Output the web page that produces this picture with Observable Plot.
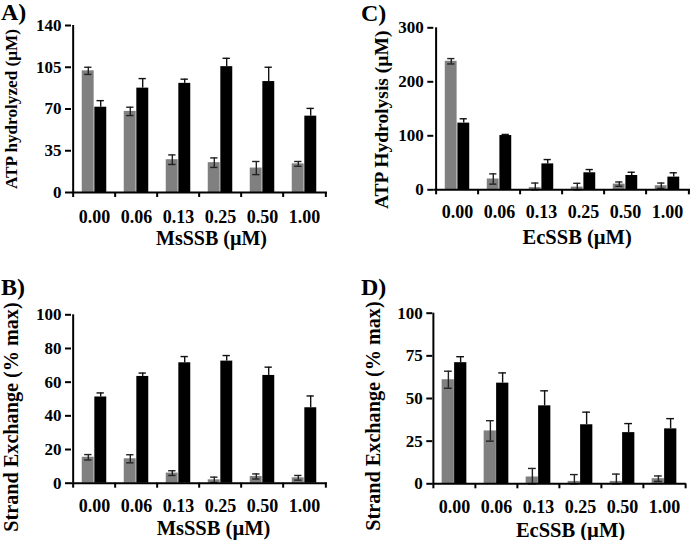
<!DOCTYPE html>
<html>
<head>
<meta charset="utf-8">
<script src="https://cdn.jsdelivr.net/npm/d3@7"></script>
<script src="https://cdn.jsdelivr.net/npm/@observablehq/plot@0.6"></script>
<style>
  html, body { margin: 0; padding: 0; background: #fff; }
  #wrap { position: relative; width: 693px; height: 540px; overflow: hidden; background: #fff; }
  .panel { position: absolute; }
  .letter { position: absolute; font-family: "Liberation Serif", "Times New Roman", serif; font-weight: bold; font-size: 24px; line-height: 24px; color: #000; }
</style>
</head>
<body>
<div id="wrap"></div>
<script>
// ---- data ----
const categories = ["0.00", "0.06", "0.13", "0.25", "0.50", "1.00"];

// Panel A: ATP hydrolyzed (µM) vs MsSSB
const aGray = [102, 68, 27.5, 25, 20.5, 24];
const aGrayErr = [3, 3.5, 4, 4, 5.5, 2];
const aBlack = [71.5, 87.5, 91.5, 105.5, 93, 64];
const aBlackErr = [5.5, 8, 3.5, 7, 12, 6.5];
const aTicks = [0, 35, 70, 105, 140];

// Panel C: ATP Hydrolysis (µM) vs EcSSB
const cGray = [238, 20, 4, 5, 10.5, 7.5];
const cGrayErr = [5, 9.5, 8.5, 7, 4, 5];
const cBlack = [123.5, 100.5, 48, 31.5, 26.5, 23.5];
const cBlackErr = [8, 2, 8, 6, 6, 8];
const cTicks = [0, 100, 200, 300];

// Panel B: Strand Exchange (% max) vs MsSSB
const bGray = [15.4, 14.5, 6, 2, 4, 3.2];
const bGrayErr = [1.6, 2.4, 1.4, 1.6, 1.5, 1.4];
const bBlack = [51.2, 63.4, 71.5, 72.5, 64, 44.8];
const bBlackErr = [2.4, 2, 3.7, 3.3, 4.9, 7];
const bTicks = [0, 20, 40, 60, 80, 100];

// Panel D: Strand Exchange (% max) vs EcSSB
const dGray = [61, 31, 4, 1.4, 1.4, 3];
const dGrayErr = [5, 6, 5, 4, 4.3, 1.6];
const dBlack = [71, 59, 45.7, 34.6, 30, 32.2];
const dBlackErr = [3.5, 6, 8.8, 7.4, 5.3, 6];
const dTicks = [0, 25, 50, 75, 100];

const panelLetters = ["A)", "B)", "C)", "D)"];
const yTitles = ["ATP hydrolyzed (µM)", "Strand Exchange (% max)", "ATP Hydrolysis (µM)", "Strand Exchange (% max)"];
const xTitles = ["MsSSB (µM)", "MsSSB (µM)", "EcSSB (µM)", "EcSSB (µM)"];

// ---- layout ----
const panels = [
  {letter: panelLetters[0], lx: 1, ly: 0, left: 0, top: 0, width: 346, height: 260, ml: 71, mr: 19, mt: 25, mb: 68,
   gray: aGray, grayErr: aGrayErr, black: aBlack, blackErr: aBlackErr, ticks: aTicks,
   yTitle: yTitles[0], xTitle: xTitles[0], tickPad: 18, ytDx: -60, ytDy: 0, ytSize: 17.2, xtDx: 12, xtDy: 46, xtSize: 20},
  {letter: panelLetters[2], lx: 361, ly: 1, left: 346, top: 0, width: 347, height: 260, ml: 87.3, mr: 3, mt: 27.3, mb: 70.7,
   gray: cGray, grayErr: cGrayErr, black: cBlack, blackErr: cBlackErr, ticks: cTicks,
   yTitle: yTitles[2], xTitle: xTitles[2], tickPad: 15, ytDx: -52, ytDy: 11, ytSize: 19.5, xtDx: 15, xtDy: 47.4, xtSize: 20.5},
  {letter: panelLetters[1], lx: 1, ly: 275, left: 0, top: 265, width: 346, height: 275, ml: 71, mr: 19, mt: 49.3, mb: 57.3,
   gray: bGray, grayErr: bGrayErr, black: bBlack, blackErr: bBlackErr, ticks: bTicks,
   yTitle: yTitles[1], xTitle: xTitles[1], tickPad: 16, ytDx: -60, ytDy: 18, ytSize: 20.2, xtDx: 14, xtDy: 45.3, xtSize: 20.5},
  {letter: panelLetters[3], lx: 361, ly: 275, left: 346, top: 265, width: 347, height: 275, ml: 86.3, mr: 7.3, mt: 47.7, mb: 56.7,
   gray: dGray, grayErr: dGrayErr, black: dBlack, blackErr: dBlackErr, ticks: dTicks,
   yTitle: yTitles[3], xTitle: xTitles[3], tickPad: 16.5, ytDx: -59, ytDy: 17.5, ytSize: 20.2, xtDx: 11, xtDy: 46.7, xtSize: 20.5}
];

const wrap = document.getElementById("wrap");
const FONT = "Liberation Serif, Times New Roman, serif";

function rows(vals, errs) {
  return categories.map((c, i) => ({cat: c, v: vals[i], lo: Math.max(0, vals[i] - errs[i]), hi: vals[i] + errs[i]}));
}

for (const p of panels) {
  const bw = (p.width - p.ml - p.mr) / categories.length;
  const g = rows(p.gray, p.grayErr);
  const b = rows(p.black, p.blackErr);
  const gC = 0.355 * bw, bC = 0.645 * bw; // bar centers within band
  const cap = 4;
  const chart = Plot.plot({
    width: p.width, height: p.height,
    marginLeft: p.ml, marginRight: p.mr, marginTop: p.mt, marginBottom: p.mb,
    style: {fontFamily: FONT, fontSize: "17px", fontWeight: "bold", color: "#000", background: "transparent", overflow: "visible"},
    x: {domain: categories, padding: 0, axis: null},
    y: {domain: [p.ticks[0], p.ticks[p.ticks.length - 1]], axis: null},
    marks: [
      Plot.barY(g, {x: "cat", y: "v", fill: "#808080", insetLeft: 0.205 * bw, insetRight: 0.5 * bw}),
      Plot.barY(b, {x: "cat", y: "v", fill: "#000", insetLeft: 0.5 * bw, insetRight: 0.205 * bw}),
      Plot.ruleX(g, {x: "cat", y1: "lo", y2: "hi", dx: gC - bw / 2, stroke: "#222", strokeWidth: 1.4}),
      Plot.tickY(g, {x: "cat", y: "hi", insetLeft: gC - cap, insetRight: bw - gC - cap, stroke: "#222", strokeWidth: 1.4}),
      Plot.tickY(g, {x: "cat", y: "lo", insetLeft: gC - cap, insetRight: bw - gC - cap, stroke: "#222", strokeWidth: 1.4}),
      Plot.ruleX(b, {x: "cat", y1: "v", y2: "hi", dx: bC - bw / 2, stroke: "#111", strokeWidth: 1.4}),
      Plot.tickY(b, {x: "cat", y: "hi", insetLeft: bC - cap, insetRight: bw - bC - cap, stroke: "#111", strokeWidth: 1.4}),
      // axes
      Plot.axisY({ticks: p.ticks, tickSize: 6, tickPadding: 4, tickFormat: d => String(d), label: null, stroke: "#000", strokeWidth: 2, fontSize: 17, fill: "#000"}),
      Plot.axisX({tickSize: 0, tickPadding: p.tickPad, label: null, fontSize: 18, fill: "#000"}),
      Plot.axisX({tickSize: 5, tickFormat: () => "", label: null, dx: -bw / 2, stroke: "#000", strokeWidth: 2}),
      Plot.axisX({ticks: [categories[categories.length - 1]], tickSize: 5, tickFormat: () => "", label: null, dx: bw / 2, stroke: "#000", strokeWidth: 2}),
      Plot.ruleY([0], {stroke: "#000", strokeWidth: 2}),
      Plot.ruleX([categories[0]], {dx: -bw / 2, stroke: "#000", strokeWidth: 2}),
      // titles
      Plot.text([p.yTitle], {frameAnchor: "left", text: d => d, rotate: -90, textAnchor: "middle", lineAnchor: "middle",
        dx: p.ytDx, dy: p.ytDy, fontSize: p.ytSize, fill: "#000"}),
      Plot.text([p.xTitle], {frameAnchor: "bottom", text: d => d, textAnchor: "middle", lineAnchor: "middle",
        dx: p.xtDx, dy: p.xtDy, fontSize: p.xtSize, fill: "#000"})
    ]
  });
  const div = document.createElement("div");
  div.className = "panel";
  div.style.left = p.left + "px";
  div.style.top = p.top + "px";
  div.appendChild(chart);
  wrap.appendChild(div);
  const lab = document.createElement("div");
  lab.className = "letter";
  lab.style.left = p.lx + "px";
  lab.style.top = p.ly + "px";
  lab.textContent = p.letter;
  wrap.appendChild(lab);
}
</script>
</body>
</html>
